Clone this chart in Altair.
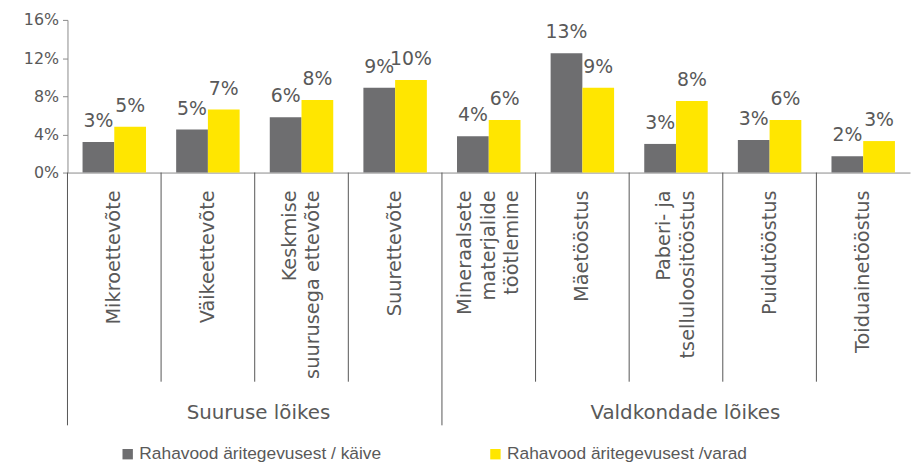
import altair as alt
import pandas as pd

categories = ["Mikroettevõte", "Väikeettevõte", "Keskmise\nsuurusega ettevõte", "Suurettevõte",
              "Mineraalsete\nmaterjalide\ntöötlemine", "Mäetööstus", "Paberi- ja\ntselluloositööstus",
              "Puidutööstus", "Toiduainetööstus"]
groups = ["Suuruse lõikes"] * 4 + ["Valdkondade lõikes"] * 5
series = ["Rahavood äritegevusest / käive", "Rahavood äritegevusest /varad"]
kaive = [3.2, 4.5, 5.8, 8.9, 3.8, 12.5, 3.0, 3.4, 1.7]
varad = [4.8, 6.6, 7.6, 9.7, 5.5, 8.9, 7.5, 5.5, 3.3]
kaive_labels = ["3%", "5%", "6%", "9%", "4%", "13%", "3%", "3%", "2%"]
varad_labels = ["5%", "7%", "8%", "10%", "6%", "9%", "8%", "6%", "3%"]
y_ticks = [0, 4, 8, 12, 16]

GREY = "#6e6e70"
YELLOW = "#ffe600"
TXT = "#595959"
LINE = "#8a8a8a"
FONT = "DejaVu Sans"
LH = 24

rows = []
for i, c in enumerate(categories):
    rows.append({"cat": c, "group": groups[i], "series": series[0], "value": kaive[i], "label": kaive_labels[i]})
    rows.append({"cat": c, "group": groups[i], "series": series[1], "value": varad[i], "label": varad_labels[i]})
df = pd.DataFrame(rows)

cat_df = pd.DataFrame({"cat": categories, "group": groups,
                       "n": [c.count("\n") + 1 for c in categories],
                       "first": [i == 0 or groups[i] != groups[i - 1] for i in range(len(categories))]})

W, H = 850, 154

xscale = alt.Scale(domain=categories, paddingInner=0, paddingOuter=0)
xaxis = alt.Axis(labels=False, ticks=False, title=None, domain=True, domainColor=LINE, domainWidth=1)
yscale = alt.Scale(domain=[0, 16], nice=False)
yaxis = alt.Axis(values=y_ticks, labelExpr="datum.value + '%'", title=None,
                 grid=False, domainColor=LINE, tickColor=LINE, tickSize=5, labelFontSize=16,
                 labelFont=FONT, labelColor=TXT, labelPadding=4, labelOverlap=False)
xoff = alt.XOffset("series:N", sort=series, scale=alt.Scale(paddingOuter=0.475, paddingInner=0))


def X(**kw):
    return alt.X("cat:N", sort=categories, scale=xscale, axis=xaxis, **kw)


def Y():
    return alt.Y("value:Q", scale=yscale, axis=yaxis)


base = alt.Chart(df)

bars = base.mark_bar().encode(
    x=X(),
    xOffset=xoff,
    y=Y(),
    color=alt.Color("series:N", sort=series,
                    scale=alt.Scale(domain=series, range=[GREY, YELLOW]),
                    legend=alt.Legend(orient="none", legendX=52, legendY=429, direction="horizontal",
                                      title=None, symbolType="square", symbolSize=110,
                                      symbolStrokeWidth=0, labelFont="Liberation Sans",
                                      labelFontSize=17.5, labelColor=TXT, labelLimit=400,
                                      columnPadding=106, labelOffset=3)),
)

values = base.mark_text(baseline="bottom", dy=-11, fontSize=19, font=FONT, color=TXT).encode(
    x=X(),
    xOffset=xoff,
    y=Y(),
    text="label:N",
)

cbase = alt.Chart(cat_df)


def cat_layer(n):
    return cbase.transform_filter(alt.datum.n == n).mark_text(
        angle=270, align="right", baseline="middle", lineBreak="\n",
        fontSize=19.5, font=FONT, color=TXT, lineHeight=LH, dy=-(n - 1) * LH / 2).encode(
        x=X(),
        y=alt.value(H + 18),
        text="cat:N",
    )


cat_labels = [cat_layer(n) for n in sorted(set(cat_df["n"]))]

short_sep = cbase.transform_filter("!datum.first").mark_rule(color="#555", strokeWidth=1).encode(
    x=X(bandPosition=0),
    y=alt.value(H), y2=alt.value(H + 211),
)
long_sep = cbase.transform_filter("datum.first").mark_rule(color="#555", strokeWidth=1).encode(
    x=X(bandPosition=0),
    y=alt.value(H), y2=alt.value(H + 255),
)

g1 = cbase.transform_filter(alt.datum.cat == categories[2]).mark_text(
    fontSize=20, font=FONT, color=TXT, baseline="middle").encode(
    x=X(bandPosition=0.04),
    y=alt.value(H + 243), text=alt.value(groups[0]))
g2 = cbase.transform_filter(alt.datum.cat == categories[6]).mark_text(
    fontSize=20, font=FONT, color=TXT, baseline="middle").encode(
    x=X(bandPosition=0.6),
    y=alt.value(H + 243), text=alt.value(groups[-1]))

chart = alt.layer(bars, values, *cat_labels, short_sep, long_sep, g1, g2).properties(
    width=W, height=H,
    autosize=alt.AutoSizeParams(type="none"),
    padding={"left": 60, "top": 10, "right": 2, "bottom": 290},
    background="white",
).configure_view(stroke=None)

chart.save("out.html", embed_options={"renderer": "svg", "actions": False})
